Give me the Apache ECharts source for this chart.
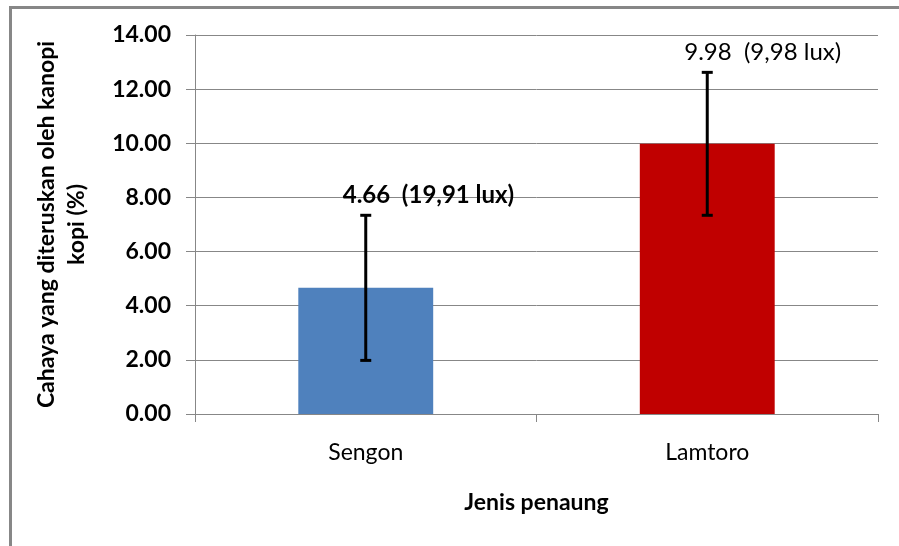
<!DOCTYPE html>
<html>
<head>
<meta charset="utf-8">
<script src="https://cdn.jsdelivr.net/npm/echarts@6/dist/echarts.min.js"></script>
<style>
html,body{margin:0;padding:0;background:#fff;}
#c{width:899px;height:546px;}
</style>
</head>
<body>
<div id="c"></div>
<script>
const categories = ['Sengon', 'Lamtoro'];
const values = [4.66, 9.98];
const errors = [2.68, 2.64];
const labelTexts = ['4.66  (19,91 lux)', '9.98  (9,98 lux)'];
const labelBold = [true, false];
const barColors = ['#4F81BD', '#C00000'];
const yMin = 0, yMax = 14, yStep = 2;

const FONT = 'Lato, "Open Sans", sans-serif';
const GRAY = '#878787';

const chart = echarts.init(document.getElementById('c'));

const errData = categories.map((c, i) => [i, values[i], errors[i], labelTexts[i], labelBold[i] ? 1 : 0]);

chart.setOption({
  animation: false,
  backgroundColor: '#fff',
  grid: { left: 195, right: 21, top: 35, bottom: 132 },
  graphic: [
    { type: 'rect', shape: { x: 9, y: 6, width: 890, height: 3 }, style: { fill: GRAY } },
    { type: 'rect', shape: { x: 9, y: 6, width: 3, height: 540 }, style: { fill: GRAY } }
  ],
  xAxis: {
    type: 'category',
    data: categories,
    axisLine: { lineStyle: { color: GRAY, width: 1 } },
    axisTick: { show: true, alignWithLabel: false, length: 8, lineStyle: { color: GRAY } },
    axisLabel: { color: '#000', fontFamily: FONT, fontSize: 23, margin: 27 },
    name: 'Jenis penaung',
    nameLocation: 'middle',
    nameGap: 89,
    nameTextStyle: { color: '#000', fontFamily: FONT, fontSize: 23, fontWeight: 'bold', verticalAlign: 'middle' }
  },
  yAxis: {
    type: 'value',
    min: yMin, max: yMax, interval: yStep,
    axisLine: { show: true, lineStyle: { color: GRAY, width: 1 } },
    axisTick: { show: true, length: 9, lineStyle: { color: GRAY } },
    splitLine: { lineStyle: { color: GRAY, width: 1 } },
    axisLabel: { color: '#000', fontFamily: FONT, fontSize: 23, fontWeight: 'bold', margin: 24,
      formatter: v => v.toFixed(2) },
    name: 'Cahaya yang diteruskan oleh kanopi\nkopi (%)',
    nameLocation: 'middle',
    nameGap: 133,
    nameTextStyle: { color: '#000', fontFamily: FONT, fontSize: 23, fontWeight: 'bold', lineHeight: 30, align: 'center', verticalAlign: 'middle' }
  },
  series: [
    {
      type: 'bar',
      data: values.map((v, i) => ({ value: v, itemStyle: { color: barColors[i] } })),
      barWidth: '39.5%'
    },
    {
      type: 'custom',
      data: errData,
      z: 10,
      renderItem: function (params, api) {
        const x = api.value(0);
        const v = api.value(1);
        const e = api.value(2);
        const top = api.coord([x, v + e]);
        const bot = api.coord([x, v - e]);
        const cap = 5.5;
        const ls = { stroke: '#000', lineWidth: 3 };
        return {
          type: 'group',
          children: [
            { type: 'line', shape: { x1: top[0], y1: top[1], x2: bot[0], y2: bot[1] }, style: ls },
            { type: 'line', shape: { x1: top[0] - cap, y1: top[1], x2: top[0] + cap, y2: top[1] }, style: ls },
            { type: 'line', shape: { x1: bot[0] - cap, y1: bot[1], x2: bot[0] + cap, y2: bot[1] }, style: ls },
            { type: 'text', x: top[0] - 23, y: top[1] - 20,
              style: { text: api.value(3), fill: '#000', font: (api.value(4) ? 'bold ' : '') + '24px ' + FONT,
                align: 'left', verticalAlign: 'middle' } }
          ]
        };
      }
    }
  ]
});
</script>
</body>
</html>
